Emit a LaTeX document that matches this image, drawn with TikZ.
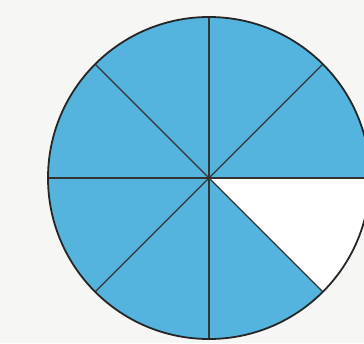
\documentclass[tikz,border=0pt]{standalone}
\begin{document}
\begin{tikzpicture}[x=1pt,y=1pt,
  sector/.style={fill=pieblue,draw=none},
  rim/.style={draw=black!85,line width=1.8pt},
  spoke/.style={draw=black!80,line width=1.3pt}]
\definecolor{pieblue}{RGB}{84,180,222}
\definecolor{paper}{RGB}{246,246,244}
\useasboundingbox (0,0) rectangle (364,343);
\clip (0,0) rectangle (364,343);
\fill[paper] (0,0) rectangle (364,343);
\coordinate (c) at (209,165);
\def\R{161}
% shaded sectors: from 0 deg counterclockwise to 315 deg
\fill[pieblue] (c) -- ++(0:\R) arc[start angle=0,end angle=315,radius=\R] -- cycle;
\fill[white] (c) -- ++(315:\R) arc[start angle=315,end angle=360,radius=\R] -- cycle;
\foreach \a in {0,45,...,315}{
  \draw[spoke] (c) -- ++(\a:\R);
}
\draw[rim] (c) circle[radius=\R];
\end{tikzpicture}
\end{document}
